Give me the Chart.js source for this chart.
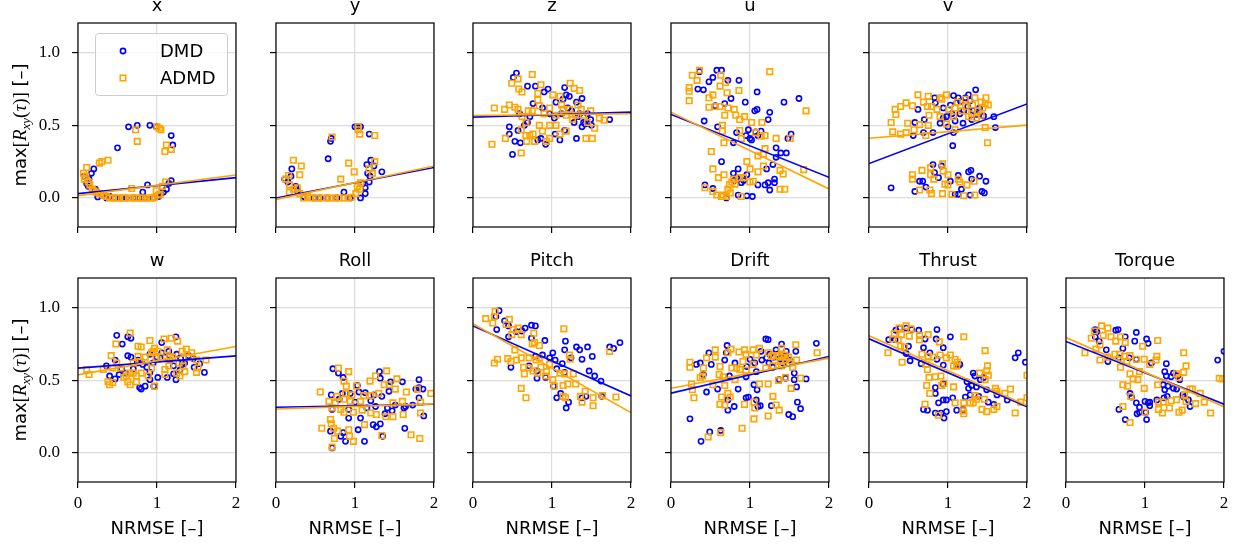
<!DOCTYPE html>
<html>
<head>
<meta charset="utf-8">
<script src="https://cdn.jsdelivr.net/npm/chart.js@4/dist/chart.umd.min.js"></script>
<style>
  html, body { margin: 0; padding: 0; background: #fff; overflow: hidden; }
  #fig { position: relative; width: 1241px; height: 548px; }
  #fig canvas { position: absolute; }
</style>
</head>
<body>
<div id="fig"></div>
<script>
// panel names, in row order (top row has 5, bottom row has 6)
const panelTitles = ['x', 'y', 'z', 'u', 'v', 'w', 'Roll', 'Pitch', 'Drift', 'Thrust', 'Torque'];
const seriesNames = ['DMD', 'ADMD'];
const xTicks = [0, 1, 2];
const yTicks = [0, 0.5, 1];

// [NRMSE, max R_xy] pairs per channel
const xDmd = [[0.64,0.49],[0.75,0.50],[0.91,0.50],[0.99,0.49],[1.18,0.43],[1.20,0.365],[0.50,0.345],[0.20,0.20],[0.17,0.17],[0.11,0.10],[0.25,0.007],[0.82,0.04],[0.88,0.09],[1.18,0.12],[1.08,0.04],[1.02,0.01],[0.36,0.0],[0.47,0.0],[0.61,0.0],[0.78,0.0],[0.95,0.0],[0.14,0.13],[0.08,0.15],[0.30,0.02],[0.40,0.01],[0.55,0.0],[0.70,0.0],[0.85,0.0],[1.05,0.03],[1.12,0.06],[1.15,0.10],[0.22,0.06],[0.13,0.08]];
const xAdmd = [[0.73,0.47],[0.75,0.39],[1.00,0.49],[1.03,0.48],[1.05,0.47],[1.12,0.365],[1.10,0.32],[1.18,0.335],[0.38,0.26],[0.30,0.25],[0.27,0.24],[0.11,0.21],[0.07,0.17],[0.08,0.13],[0.15,0.09],[0.18,0.06],[0.23,0.04],[0.32,0.02],[0.68,0.065],[0.99,0.05],[1.07,0.08],[1.11,0.11],[0.40,0.0],[0.48,0.0],[0.57,0.0],[0.65,0.0],[0.74,0.0],[0.82,0.0],[0.91,0.0],[0.97,0.005],[1.04,0.025],[0.10,0.15],[0.13,0.11],[0.20,0.05],[0.27,0.03],[0.36,0.01],[0.44,0.0],[0.52,0.0],[0.60,0.0],[0.70,0.0],[0.78,0.0],[0.87,0.0],[0.94,0.0],[1.02,0.02]];
const yDmd = [[1.03,0.49],[1.07,0.49],[1.00,0.49],[1.18,0.44],[0.69,0.39],[0.70,0.41],[0.66,0.27],[1.20,0.26],[1.15,0.23],[1.24,0.22],[1.34,0.18],[1.19,0.15],[1.18,0.11],[1.13,0.07],[1.13,0.03],[1.07,0.0],[0.20,0.20],[0.11,0.13],[0.19,0.15],[0.27,0.05],[0.86,0.04],[0.48,0.0],[0.65,0.0],[0.77,0.0],[0.94,0.0],[0.25,0.08],[0.35,0.01],[0.56,0.0],[1.10,0.10],[1.16,0.17],[0.15,0.11]];
const yAdmd = [[1.04,0.49],[1.06,0.44],[1.04,0.47],[1.25,0.43],[0.71,0.42],[0.22,0.26],[0.32,0.22],[0.30,0.16],[0.16,0.155],[0.12,0.13],[0.92,0.24],[0.99,0.18],[0.82,0.13],[1.25,0.25],[1.18,0.20],[1.22,0.17],[1.07,0.105],[1.03,0.08],[0.17,0.09],[0.17,0.04],[0.27,0.07],[0.35,0.0],[0.44,0.0],[0.54,0.0],[0.65,0.0],[0.75,0.0],[0.86,0.0],[0.96,0.005],[1.06,0.06],[0.22,0.06],[0.40,0.01],[0.50,0.0],[0.60,0.0],[0.70,0.0],[0.80,0.0],[0.91,0.0],[1.01,0.03],[0.30,0.03]];
const zDmd = [[0.55,0.86],[0.51,0.83],[0.69,0.77],[0.79,0.77],[0.95,0.75],[0.90,0.73],[1.16,0.76],[1.18,0.71],[1.38,0.685],[1.31,0.66],[1.14,0.68],[0.76,0.65],[0.59,0.58],[0.46,0.49],[0.46,0.44],[0.53,0.39],[0.60,0.38],[0.50,0.30],[0.57,0.465],[0.69,0.52],[0.86,0.41],[0.82,0.40],[0.92,0.37],[1.04,0.44],[1.10,0.40],[1.16,0.465],[1.31,0.41],[1.42,0.51],[1.49,0.54],[1.73,0.54],[1.33,0.56],[1.03,0.55],[0.97,0.58],[1.20,0.62],[1.25,0.60],[1.35,0.58],[1.40,0.52],[1.45,0.58],[1.28,0.52],[1.12,0.58],[0.88,0.62],[0.72,0.56],[0.65,0.50],[1.50,0.50],[1.38,0.49],[1.05,0.66],[1.22,0.70]];
const zAdmd = [[0.75,0.85],[0.57,0.82],[0.49,0.79],[0.58,0.75],[0.62,0.73],[0.86,0.78],[1.23,0.79],[1.28,0.755],[1.35,0.74],[0.82,0.72],[0.82,0.675],[1.01,0.71],[1.10,0.70],[0.27,0.62],[0.40,0.61],[0.46,0.64],[0.53,0.625],[0.57,0.61],[0.75,0.60],[0.84,0.635],[0.97,0.62],[1.14,0.61],[1.22,0.61],[1.37,0.61],[1.49,0.60],[1.60,0.55],[1.66,0.535],[1.54,0.48],[1.43,0.41],[1.51,0.41],[1.18,0.46],[1.10,0.44],[0.97,0.50],[0.84,0.50],[0.67,0.52],[0.61,0.47],[0.67,0.43],[0.76,0.44],[0.78,0.39],[0.93,0.39],[0.97,0.41],[0.41,0.41],[0.24,0.37],[0.61,0.31],[0.72,0.43],[1.05,0.50],[1.26,0.54],[1.30,0.57],[1.40,0.57],[1.18,0.57],[1.12,0.64],[1.05,0.57],[0.90,0.58],[0.70,0.60],[0.62,0.56],[1.45,0.52],[1.33,0.64],[0.88,0.46],[0.68,0.39]];
const uDmd = [[0.36,0.87],[0.58,0.88],[0.64,0.88],[0.72,0.81],[0.86,0.81],[0.53,0.83],[0.48,0.80],[0.34,0.75],[0.41,0.745],[0.76,0.685],[1.09,0.73],[0.94,0.66],[0.68,0.65],[0.56,0.635],[1.06,0.60],[1.09,0.61],[1.25,0.59],[1.43,0.66],[1.62,0.685],[1.23,0.54],[0.42,0.53],[0.59,0.49],[0.98,0.47],[1.07,0.455],[1.14,0.46],[0.83,0.45],[0.95,0.43],[1.00,0.41],[0.79,0.38],[1.52,0.44],[1.48,0.41],[1.33,0.345],[1.39,0.31],[1.46,0.31],[1.33,0.28],[1.29,0.23],[1.21,0.20],[0.64,0.25],[0.85,0.20],[0.79,0.17],[0.96,0.16],[1.10,0.09],[1.23,0.105],[1.31,0.13],[1.31,0.105],[1.25,0.055],[1.19,0.09],[0.43,0.09],[0.53,0.065],[0.70,0.0],[0.85,0.02],[0.96,0.015],[1.03,0.01],[0.89,0.105],[0.83,0.14],[0.80,0.12],[0.92,0.12],[1.02,0.40],[1.10,0.43]];
const uAdmd = [[0.36,0.88],[0.27,0.845],[0.33,0.81],[0.63,0.845],[0.69,0.795],[0.62,0.77],[0.71,0.725],[0.86,0.74],[1.25,0.87],[0.23,0.76],[0.23,0.735],[0.23,0.67],[0.48,0.69],[0.53,0.71],[0.48,0.625],[0.56,0.63],[0.62,0.63],[0.72,0.62],[0.80,0.61],[0.68,0.57],[0.82,0.57],[0.87,0.54],[0.93,0.56],[1.02,0.52],[1.15,0.52],[1.71,0.60],[0.65,0.50],[0.65,0.46],[0.87,0.465],[0.89,0.41],[0.67,0.38],[1.07,0.45],[1.14,0.425],[1.19,0.43],[1.33,0.41],[1.51,0.41],[1.19,0.34],[1.10,0.29],[1.17,0.30],[0.51,0.32],[0.53,0.20],[0.96,0.25],[1.17,0.22],[1.10,0.18],[1.38,0.19],[1.42,0.165],[1.68,0.195],[1.00,0.20],[0.92,0.14],[0.87,0.14],[0.67,0.16],[0.60,0.14],[0.77,0.11],[0.81,0.095],[1.00,0.11],[1.04,0.115],[0.43,0.07],[0.53,0.045],[0.58,0.02],[0.64,0.01],[0.70,0.01],[0.75,0.035],[0.89,0.01],[1.38,0.06],[1.44,0.06],[0.66,0.02],[0.72,0.06],[0.74,0.09],[0.79,0.13]];
const vDmd = [[1.35,0.745],[1.26,0.71],[1.07,0.705],[1.13,0.69],[1.16,0.665],[1.11,0.655],[0.83,0.69],[0.84,0.655],[0.94,0.62],[1.03,0.64],[0.62,0.61],[0.58,0.52],[0.70,0.54],[0.90,0.515],[0.94,0.55],[1.00,0.49],[1.09,0.53],[1.19,0.515],[1.30,0.54],[1.36,0.575],[1.45,0.565],[1.58,0.56],[1.60,0.485],[0.56,0.43],[0.69,0.45],[0.81,0.45],[1.07,0.45],[1.06,0.36],[0.28,0.07],[0.58,0.045],[0.64,0.115],[0.68,0.115],[0.72,0.075],[0.81,0.23],[0.83,0.175],[0.88,0.14],[0.92,0.22],[1.03,0.115],[1.13,0.155],[1.17,0.06],[1.26,0.18],[1.29,0.19],[1.30,0.13],[1.40,0.15],[1.48,0.115],[1.43,0.045],[1.46,0.035],[1.09,0.025],[1.13,0.025],[1.28,0.02],[1.20,0.60],[1.25,0.63],[1.32,0.60],[1.40,0.62],[1.15,0.58],[1.05,0.58],[0.98,0.56],[1.22,0.69],[1.28,0.67]];
const vAdmd = [[0.62,0.71],[0.75,0.70],[0.90,0.69],[0.98,0.71],[0.92,0.68],[1.22,0.68],[1.34,0.69],[1.48,0.69],[0.33,0.61],[0.40,0.63],[0.47,0.655],[0.55,0.635],[0.69,0.66],[0.74,0.63],[0.79,0.63],[0.86,0.61],[1.01,0.61],[1.09,0.62],[1.22,0.63],[1.31,0.64],[1.47,0.65],[1.51,0.64],[0.34,0.575],[0.76,0.57],[0.90,0.56],[1.07,0.56],[1.26,0.56],[1.36,0.55],[0.28,0.52],[0.49,0.515],[0.64,0.505],[0.75,0.50],[0.98,0.51],[1.09,0.47],[0.30,0.455],[0.40,0.44],[0.47,0.45],[0.57,0.47],[0.72,0.43],[1.47,0.485],[1.50,0.38],[0.67,0.19],[0.55,0.16],[0.55,0.13],[0.78,0.21],[0.78,0.16],[0.82,0.13],[0.93,0.235],[0.94,0.185],[1.00,0.16],[0.96,0.095],[1.00,0.09],[0.77,0.055],[0.79,0.03],[0.93,0.03],[1.13,0.13],[1.15,0.11],[1.24,0.09],[1.33,0.115],[1.20,0.015],[1.34,0.02],[1.05,0.025],[0.64,0.055],[1.38,0.60],[1.42,0.57],[1.30,0.58],[1.17,0.60],[1.12,0.66],[1.42,0.66],[1.44,0.62]];
const wDmd = [[0.49,0.81],[0.56,0.75],[0.63,0.80],[0.67,0.79],[1.24,0.80],[0.63,0.67],[0.67,0.66],[0.47,0.64],[0.36,0.60],[0.40,0.53],[0.52,0.54],[0.47,0.51],[0.78,0.45],[0.80,0.44],[0.85,0.46],[0.96,0.46],[0.87,0.59],[0.91,0.68],[0.91,0.555],[0.91,0.505],[1.01,0.52],[1.06,0.69],[1.06,0.76],[1.13,0.52],[1.16,0.64],[1.21,0.60],[1.21,0.545],[1.24,0.505],[1.29,0.57],[1.32,0.61],[1.40,0.67],[1.46,0.65],[1.47,0.59],[1.54,0.615],[1.60,0.555],[0.82,0.61],[0.76,0.64],[0.70,0.58],[0.75,0.62],[0.95,0.62],[1.00,0.66],[1.10,0.66],[1.15,0.70],[1.25,0.68],[1.30,0.65],[1.35,0.62],[0.55,0.58],[0.60,0.55]];
const wAdmd = [[0.66,0.825],[0.48,0.75],[0.42,0.67],[0.91,0.775],[1.09,0.785],[1.18,0.79],[1.26,0.77],[0.76,0.735],[0.80,0.73],[0.76,0.665],[0.79,0.63],[0.93,0.69],[0.97,0.72],[1.01,0.70],[1.13,0.71],[1.16,0.66],[1.32,0.70],[1.37,0.715],[1.44,0.69],[1.50,0.64],[1.62,0.64],[0.11,0.575],[0.14,0.54],[0.32,0.575],[0.44,0.585],[0.49,0.62],[0.54,0.585],[0.61,0.53],[0.63,0.49],[0.66,0.47],[0.70,0.55],[0.74,0.53],[0.74,0.49],[0.80,0.55],[0.93,0.585],[0.97,0.46],[0.38,0.49],[0.40,0.47],[0.44,0.485],[1.10,0.575],[1.10,0.54],[1.25,0.55],[1.29,0.53],[1.35,0.56],[1.50,0.555],[1.52,0.585],[0.99,0.655],[0.89,0.53],[0.70,0.62],[0.85,0.66],[0.95,0.70],[1.05,0.66],[1.20,0.66],[1.28,0.62],[1.40,0.66],[0.65,0.55],[0.58,0.52],[1.15,0.60],[1.33,0.60]];
const rollDmd = [[0.72,0.58],[0.79,0.55],[0.85,0.52],[1.03,0.465],[1.31,0.56],[1.32,0.515],[1.45,0.49],[1.60,0.49],[1.81,0.505],[1.86,0.44],[1.77,0.44],[1.81,0.38],[1.62,0.31],[1.87,0.255],[0.70,0.40],[0.84,0.41],[0.94,0.41],[1.05,0.42],[1.13,0.415],[1.24,0.40],[1.34,0.39],[1.43,0.425],[0.71,0.30],[0.92,0.30],[1.15,0.31],[1.26,0.32],[1.41,0.31],[1.51,0.33],[1.64,0.32],[1.73,0.33],[0.92,0.24],[1.07,0.24],[1.23,0.195],[1.27,0.18],[1.32,0.20],[0.69,0.15],[0.85,0.14],[0.88,0.08],[1.12,0.08],[1.04,0.16],[1.35,0.115],[1.63,0.17],[0.71,0.035],[0.82,0.115],[1.81,0.45],[0.80,0.37],[1.00,0.35],[1.20,0.36],[1.38,0.27],[1.47,0.29]];
const rollAdmd = [[0.79,0.585],[0.92,0.56],[1.40,0.565],[1.26,0.53],[1.53,0.51],[1.19,0.495],[0.86,0.495],[0.89,0.46],[1.02,0.46],[1.37,0.47],[1.43,0.47],[1.51,0.44],[0.56,0.42],[0.77,0.39],[0.88,0.41],[0.96,0.40],[1.11,0.395],[1.20,0.395],[1.30,0.41],[1.65,0.42],[1.79,0.44],[1.96,0.41],[0.67,0.355],[0.75,0.345],[0.86,0.37],[0.94,0.355],[1.07,0.355],[1.48,0.345],[1.60,0.355],[1.83,0.35],[0.71,0.31],[0.82,0.30],[0.86,0.28],[0.98,0.28],[1.09,0.295],[1.20,0.275],[1.27,0.265],[1.39,0.25],[1.48,0.25],[1.61,0.265],[1.83,0.275],[0.69,0.23],[0.70,0.20],[0.73,0.17],[0.58,0.17],[0.78,0.15],[0.92,0.16],[0.93,0.115],[0.98,0.08],[0.74,0.10],[1.12,0.195],[1.34,0.12],[1.71,0.125],[1.82,0.10],[0.71,0.04]];
const pitchDmd = [[0.33,0.98],[0.29,0.94],[0.40,0.91],[0.45,0.875],[0.66,0.86],[0.74,0.88],[0.79,0.875],[0.30,0.85],[0.55,0.835],[0.45,0.80],[0.74,0.79],[0.91,0.775],[1.01,0.69],[1.17,0.77],[1.31,0.73],[1.35,0.71],[1.45,0.73],[1.73,0.73],[1.78,0.72],[1.86,0.76],[1.51,0.665],[1.38,0.645],[1.16,0.71],[1.24,0.655],[0.79,0.665],[0.88,0.675],[0.97,0.655],[1.04,0.64],[1.13,0.615],[0.48,0.59],[0.71,0.60],[0.81,0.565],[0.81,0.515],[1.16,0.555],[1.47,0.565],[1.54,0.53],[1.62,0.495],[1.43,0.39],[1.38,0.38],[1.06,0.38],[1.11,0.41],[1.21,0.35],[1.18,0.31],[1.63,0.39],[1.02,0.46],[0.92,0.52],[1.06,0.58],[0.62,0.84]];
const pitchAdmd = [[0.28,0.975],[0.27,0.94],[0.16,0.925],[0.25,0.895],[0.46,0.92],[0.42,0.885],[0.51,0.85],[0.57,0.86],[0.49,0.815],[0.61,0.815],[0.77,0.825],[1.15,0.855],[0.78,0.76],[0.84,0.74],[0.75,0.75],[0.53,0.71],[1.73,0.70],[0.31,0.645],[0.27,0.62],[0.44,0.65],[0.48,0.63],[0.55,0.64],[0.61,0.655],[0.71,0.655],[0.80,0.64],[0.84,0.655],[0.97,0.61],[0.64,0.59],[0.71,0.585],[0.76,0.565],[0.86,0.59],[0.93,0.56],[0.65,0.545],[0.82,0.55],[0.92,0.53],[1.01,0.505],[1.16,0.545],[1.22,0.675],[1.23,0.645],[1.27,0.545],[1.30,0.475],[1.03,0.46],[1.14,0.465],[1.20,0.475],[0.61,0.445],[0.67,0.38],[1.14,0.39],[1.17,0.38],[1.36,0.39],[1.38,0.35],[1.52,0.38],[1.52,0.325],[1.42,0.425],[1.64,0.395],[1.81,0.385],[1.10,0.55]];
const driftDmd = [[1.20,0.785],[1.23,0.78],[1.84,0.755],[0.71,0.74],[1.40,0.75],[0.48,0.69],[0.70,0.69],[1.14,0.70],[1.33,0.71],[1.46,0.70],[1.58,0.70],[1.21,0.655],[1.24,0.62],[1.29,0.59],[1.38,0.65],[1.50,0.64],[0.32,0.61],[0.37,0.62],[0.51,0.61],[0.68,0.64],[0.81,0.62],[0.96,0.595],[1.00,0.645],[1.06,0.62],[0.41,0.54],[0.74,0.53],[0.95,0.525],[1.08,0.56],[0.59,0.44],[0.45,0.42],[0.85,0.44],[1.05,0.47],[1.09,0.435],[1.37,0.505],[1.45,0.515],[1.56,0.55],[1.56,0.505],[1.71,0.51],[1.59,0.455],[0.72,0.365],[0.80,0.32],[0.95,0.38],[0.98,0.385],[1.08,0.365],[1.13,0.325],[1.27,0.325],[1.60,0.35],[1.64,0.305],[1.49,0.265],[1.54,0.25],[0.72,0.295],[0.24,0.235],[0.49,0.145],[0.63,0.155],[0.38,0.08],[1.10,0.32],[1.30,0.66],[1.35,0.68],[1.42,0.62],[1.45,0.67],[1.25,0.68],[1.15,0.64]];
const driftAdmd = [[0.56,0.71],[0.76,0.715],[0.93,0.71],[1.04,0.71],[1.12,0.72],[1.40,0.72],[1.58,0.745],[1.85,0.69],[0.72,0.69],[0.86,0.695],[0.95,0.68],[1.23,0.69],[0.45,0.655],[0.56,0.66],[0.91,0.63],[1.08,0.675],[1.27,0.665],[1.36,0.67],[1.44,0.675],[1.49,0.66],[1.59,0.64],[0.24,0.625],[0.24,0.59],[0.41,0.585],[0.62,0.595],[0.77,0.585],[0.83,0.585],[0.87,0.575],[0.95,0.57],[1.04,0.61],[1.20,0.585],[1.29,0.60],[1.40,0.60],[1.54,0.59],[0.37,0.52],[0.40,0.53],[0.61,0.54],[0.66,0.525],[0.81,0.505],[1.12,0.475],[1.23,0.475],[1.36,0.50],[1.45,0.52],[1.64,0.515],[0.26,0.475],[0.27,0.435],[0.53,0.47],[0.68,0.465],[0.29,0.38],[0.72,0.41],[0.64,0.385],[0.75,0.385],[1.52,0.445],[1.29,0.39],[1.05,0.35],[0.93,0.335],[0.68,0.33],[1.33,0.33],[1.37,0.295],[1.06,0.31],[1.23,0.255],[1.05,0.235],[0.90,0.17],[0.63,0.14],[0.47,0.11],[0.62,0.335],[1.40,0.66],[1.45,0.64],[1.38,0.63],[1.30,0.67],[1.50,0.62]];
const thrustDmd = [[0.34,0.845],[0.39,0.86],[0.47,0.86],[0.54,0.85],[0.63,0.845],[0.86,0.85],[0.71,0.785],[0.85,0.785],[1.03,0.80],[0.25,0.78],[0.33,0.78],[0.50,0.735],[0.69,0.725],[0.77,0.69],[0.94,0.725],[0.47,0.685],[0.52,0.635],[0.66,0.615],[0.86,0.645],[0.94,0.605],[1.13,0.60],[1.15,0.61],[1.89,0.69],[1.85,0.655],[1.98,0.625],[1.32,0.55],[1.34,0.53],[1.41,0.505],[1.45,0.52],[1.24,0.49],[1.26,0.445],[1.30,0.465],[1.36,0.455],[1.28,0.40],[1.39,0.39],[1.49,0.435],[1.62,0.40],[1.75,0.365],[0.84,0.45],[0.84,0.41],[0.94,0.475],[1.51,0.35],[1.58,0.335],[1.22,0.385],[0.94,0.365],[0.98,0.365],[0.88,0.345],[1.06,0.38],[1.11,0.295],[0.69,0.30],[0.74,0.295],[0.84,0.275],[0.91,0.275],[0.95,0.24],[0.98,0.285],[1.19,0.30]];
const thrustAdmd = [[0.47,0.875],[0.38,0.86],[0.53,0.855],[0.32,0.82],[0.41,0.815],[0.51,0.805],[0.64,0.81],[0.75,0.815],[1.20,0.80],[0.30,0.785],[0.37,0.78],[0.64,0.78],[0.89,0.765],[0.24,0.69],[0.40,0.735],[0.45,0.73],[0.67,0.68],[0.75,0.665],[0.81,0.66],[0.90,0.675],[0.98,0.655],[1.03,0.675],[1.09,0.645],[1.12,0.625],[1.47,0.705],[0.42,0.625],[0.72,0.61],[0.74,0.575],[0.76,0.52],[0.84,0.525],[0.91,0.53],[1.07,0.60],[1.11,0.60],[1.50,0.60],[1.49,0.565],[1.51,0.535],[1.40,0.55],[1.47,0.505],[2.00,0.535],[0.73,0.465],[0.77,0.41],[0.92,0.465],[0.95,0.48],[1.07,0.455],[1.34,0.395],[1.60,0.445],[1.62,0.425],[1.72,0.41],[1.79,0.44],[1.92,0.35],[2.00,0.38],[1.09,0.345],[1.20,0.345],[1.28,0.345],[1.32,0.345],[1.36,0.37],[1.43,0.30],[1.49,0.285],[1.58,0.30],[1.62,0.32],[1.19,0.29],[1.20,0.27],[0.71,0.335],[0.88,0.26],[1.85,0.275],[1.46,0.37]];
const torqueDmd = [[0.37,0.85],[0.39,0.835],[0.63,0.845],[0.66,0.85],[0.89,0.83],[0.75,0.80],[0.37,0.80],[0.42,0.77],[0.87,0.77],[1.02,0.785],[1.04,0.755],[0.51,0.71],[0.72,0.72],[0.80,0.655],[0.89,0.645],[0.53,0.63],[0.67,0.655],[1.08,0.62],[1.27,0.615],[1.92,0.64],[2.00,0.70],[1.25,0.56],[1.27,0.53],[1.33,0.525],[1.36,0.55],[1.41,0.53],[1.44,0.505],[1.23,0.47],[1.29,0.46],[1.25,0.435],[1.36,0.445],[1.40,0.44],[1.48,0.40],[1.55,0.365],[1.57,0.32],[1.49,0.385],[1.28,0.39],[1.24,0.38],[1.15,0.365],[0.81,0.41],[0.83,0.385],[0.89,0.345],[0.93,0.315],[0.90,0.27],[0.93,0.28],[1.00,0.355],[1.04,0.345],[1.06,0.35],[1.06,0.325],[1.02,0.23],[0.67,0.30],[0.75,0.23],[1.01,0.28]];
const torqueAdmd = [[0.45,0.875],[0.53,0.86],[0.36,0.84],[0.47,0.81],[0.57,0.80],[0.63,0.77],[0.69,0.80],[0.75,0.76],[0.32,0.79],[0.43,0.745],[1.16,0.775],[0.97,0.735],[0.24,0.69],[0.38,0.715],[0.43,0.64],[0.53,0.66],[0.62,0.68],[0.68,0.68],[0.74,0.665],[0.81,0.67],[0.69,0.59],[0.77,0.63],[0.89,0.645],[0.99,0.645],[1.06,0.61],[1.14,0.64],[1.15,0.665],[1.49,0.69],[1.52,0.60],[0.81,0.545],[0.93,0.56],[1.40,0.545],[1.43,0.52],[1.49,0.555],[0.72,0.47],[0.78,0.46],[0.85,0.51],[0.91,0.505],[0.99,0.445],[1.16,0.47],[1.57,0.44],[1.60,0.44],[1.50,0.40],[1.70,0.41],[1.94,0.515],[1.98,0.51],[0.82,0.39],[0.72,0.32],[0.81,0.21],[1.17,0.35],[1.23,0.35],[1.33,0.36],[1.40,0.367],[1.52,0.355],[1.64,0.34],[1.75,0.35],[1.17,0.30],[1.22,0.275],[1.31,0.31],[1.43,0.28],[1.47,0.295],[1.00,0.28],[1.83,0.275]];

// linear fits: max R_xy at NRMSE = 0 and NRMSE = 2
const fitDmd  = [[0.03,0.14],[0.0,0.21],[0.557,0.591],[0.575,0.142],[0.237,0.648],[0.584,0.669],[0.315,0.336],[0.875,0.393],[0.412,0.664],[0.786,0.319],[0.768,0.336]];
const fitAdmd = [[0.016,0.158],[-0.01,0.22],[0.568,0.58],[0.591,0.062],[0.411,0.502],[0.538,0.733],[0.303,0.338],[0.89,0.278],[0.446,0.653],[0.807,0.326],[0.795,0.319]];

const dmdSets  = [xDmd, yDmd, zDmd, uDmd, vDmd, wDmd, rollDmd, pitchDmd, driftDmd, thrustDmd, torqueDmd];
const admdSets = [xAdmd, yAdmd, zAdmd, uAdmd, vAdmd, wAdmd, rollAdmd, pitchAdmd, driftAdmd, thrustAdmd, torqueAdmd];

const BLUE = '#0000ff';
const ORANGE = '#ffa500';
const SANS = 'DejaVu Sans';
const SERIF = 'Liberation Serif';

// subplot grid
const colLeft = [78, 276, 473, 671, 869, 1066];
const rowTop = [23, 278];
const plotW = 158, plotH = 204;
const M = { left: 80, top: 36, right: 14, bottom: 66 };
const TITLE_SIZE = 18, TITLE_PAD = 6.2;

// full box around each axes
const framePlugin = {
  id: 'frame',
  afterDatasetsDraw(chart) {
    const { ctx, chartArea: a } = chart;
    ctx.save();
    ctx.strokeStyle = '#000';
    ctx.lineWidth = 1.2;
    ctx.strokeRect(a.left, a.top, a.right - a.left, a.bottom - a.top);
    ctx.restore();
  }
};

// rotated y label with a subscript
const ylabelPlugin = {
  id: 'ylabel',
  afterDraw(chart) {
    const { ctx, chartArea: a } = chart;
    const parts = [
      { t: 'max', f: `18px "${SANS}"`, dy: 0 },
      { t: '[', f: `19px "${SERIF}"`, dy: 0 },
      { t: 'R', f: `italic 19px "${SERIF}"`, dy: 0 },
      { t: 'xy', f: `italic 13px "${SERIF}"`, dy: 4 },
      { t: '(', f: `19px "${SERIF}"`, dy: 0 },
      { t: 'τ', f: `italic 19px "${SERIF}"`, dy: 0 },
      { t: ')]', f: `19px "${SERIF}"`, dy: 0 },
      { t: ' [–]', f: `18px "${SANS}"`, dy: 0 }
    ];
    ctx.save();
    let total = 0;
    parts.forEach(p => { ctx.font = p.f; p.w = ctx.measureText(p.t).width; total += p.w; });
    ctx.translate(a.left - 52, (a.top + a.bottom) / 2);
    ctx.rotate(-Math.PI / 2);
    ctx.fillStyle = '#000';
    ctx.textBaseline = 'alphabetic';
    let x = -total / 2;
    parts.forEach(p => { ctx.font = p.f; ctx.fillText(p.t, x, p.dy); x += p.w; });
    ctx.restore();
  }
};

// legend box in the first axes
const legendPlugin = {
  id: 'boxLegend',
  afterDraw(chart) {
    const { ctx, chartArea: a } = chart;
    const bx = a.left + 17, by = a.top + 10, bw = 132, bh = 62;
    ctx.save();
    ctx.fillStyle = 'rgba(255,255,255,0.8)';
    ctx.strokeStyle = '#cccccc';
    ctx.lineWidth = 1;
    ctx.beginPath();
    ctx.roundRect(bx + 0.5, by + 0.5, bw, bh, 3);
    ctx.fill();
    ctx.stroke();
    const mx = a.left + 45;
    const rowsY = [a.top + 28, a.top + 55];
    ctx.lineWidth = 1.6;
    ctx.strokeStyle = BLUE;
    ctx.beginPath();
    ctx.arc(mx, rowsY[0], 2.6, 0, Math.PI * 2);
    ctx.stroke();
    ctx.strokeStyle = ORANGE;
    ctx.strokeRect(mx - 2.75, rowsY[1] - 2.75, 5.5, 5.5);
    ctx.fillStyle = '#000';
    ctx.font = `18px "${SANS}"`;
    ctx.textBaseline = 'middle';
    seriesNames.forEach((name, k) => ctx.fillText(name, a.left + 82, rowsY[k] + 1));
    ctx.restore();
  }
};

const toPts = arr => arr.map(([x, y]) => ({ x, y }));

const fig = document.getElementById('fig');

panelTitles.forEach((title, i) => {
  const row = i < 5 ? 0 : 1;
  const col = i < 5 ? i : i - 5;
  const bottomRow = row === 1;
  const firstCol = col === 0;

  const W = M.left + plotW + M.right;
  const H = M.top + plotH + M.bottom;
  const cv = document.createElement('canvas');
  cv.width = W; cv.height = H;
  cv.style.width = W + 'px'; cv.style.height = H + 'px';
  cv.style.left = (colLeft[col] - M.left) + 'px';
  cv.style.top = (rowTop[row] - M.top) + 'px';
  fig.appendChild(cv);

  const plugins = [framePlugin];
  if (firstCol) plugins.push(ylabelPlugin);
  if (i === 0) plugins.push(legendPlugin);

  const titleH = TITLE_SIZE * 1.2 + TITLE_PAD;

  new Chart(cv, {
    type: 'scatter',
    data: {
      datasets: [
        { label: 'ADMD fit', data: [{ x: 0, y: fitAdmd[i][0] }, { x: 2, y: fitAdmd[i][1] }],
          showLine: true, borderColor: ORANGE, borderWidth: 1.6, pointRadius: 0, clip: 0 },
        { label: 'DMD fit', data: [{ x: 0, y: fitDmd[i][0] }, { x: 2, y: fitDmd[i][1] }],
          showLine: true, borderColor: BLUE, borderWidth: 1.6, pointRadius: 0, clip: 0 },
        { label: seriesNames[1], data: toPts(admdSets[i]), pointStyle: 'rect', pointRadius: 3.9,
          borderWidth: 1.6, borderColor: ORANGE, backgroundColor: 'rgba(0,0,0,0)', clip: 0 },
        { label: seriesNames[0], data: toPts(dmdSets[i]), pointStyle: 'circle', pointRadius: 2.6,
          borderWidth: 1.6, borderColor: BLUE, backgroundColor: 'rgba(0,0,0,0)', clip: 0 }
      ]
    },
    options: {
      responsive: false,
      animation: false,
      devicePixelRatio: 1,
      events: [],
      layout: { padding: { left: 0, right: M.right, top: M.top - titleH, bottom: 0 } },
      plugins: {
        legend: { display: false },
        tooltip: { enabled: false },
        title: {
          display: true, text: title, color: '#000', fullSize: false,
          font: { family: SANS, size: TITLE_SIZE, weight: 'normal', lineHeight: 1.2 },
          padding: { top: 0, bottom: TITLE_PAD }
        }
      },
      scales: {
        x: {
          type: 'linear', min: 0, max: 2,
          afterBuildTicks: s => { s.ticks = xTicks.map(v => ({ value: v })); },
          afterFit: s => { s.height = M.bottom; },
          border: { display: false },
          grid: { color: '#dcdcdc', lineWidth: 1.2, tickLength: 6, tickColor: '#000', tickWidth: 1.2 },
          ticks: {
            autoSkip: false, maxRotation: 0, padding: 5, color: '#000',
            font: { family: SERIF, size: 17 },
            callback: v => bottomRow ? String(v) : ''
          },
          title: {
            display: bottomRow, text: 'NRMSE [–]', color: '#000',
            font: { family: SANS, size: 18, lineHeight: 1.2 },
            padding: { top: 0, bottom: 8 }
          }
        },
        y: {
          type: 'linear', min: -0.2, max: 1.205,
          afterBuildTicks: s => { s.ticks = yTicks.map(v => ({ value: v })); },
          afterFit: s => { s.width = M.left; },
          border: { display: false },
          grid: { color: '#dcdcdc', lineWidth: 1.2, tickLength: 6, tickColor: '#000', tickWidth: 1.2 },
          ticks: {
            autoSkip: false, padding: 12, color: '#000',
            font: { family: SERIF, size: 17 },
            callback: v => firstCol ? v.toFixed(1) : ''
          }
        }
      }
    },
    plugins
  });
});
</script>
</body>
</html>
